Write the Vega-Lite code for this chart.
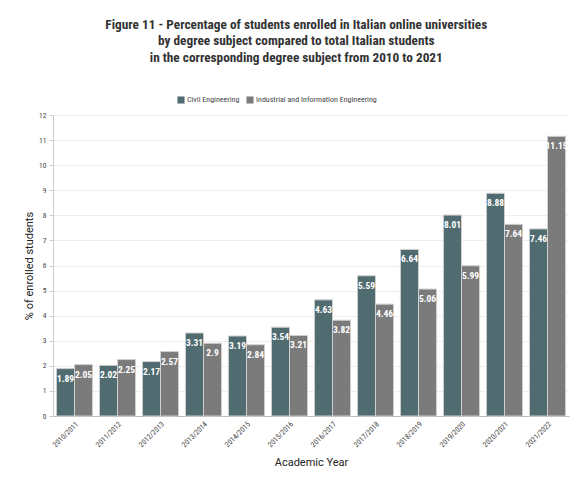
{
  "$schema": "https://vega.github.io/schema/vega-lite/v6.json",
  "width": 579,
  "height": 479,
  "autosize": {"type": "fit", "contains": "padding"},
  "padding": {"left": 23, "top": 17, "right": 10, "bottom": 11},
  "background": "white",
  "title": {
    "text": [
      "Figure 11 - Percentage of students enrolled in Italian online universities",
      "by degree subject compared to total Italian students",
      "in the corresponding degree subject from 2010 to 2021"
    ],
    "subtitle": " ",
    "subtitleFontSize": 27,
    "anchor": "middle",
    "frame": "bounds",
    "font": "Roboto Condensed",
    "fontSize": 13.3,
    "fontWeight": "bold",
    "lineHeight": 16.5,
    "color": "#333333",
    "offset": 18
  },
  "data": {
    "values": [
      {"year": "2010/2011", "subject": "Civil Engineering", "pct": 1.89},
      {"year": "2010/2011", "subject": "Industrial and Information Engineering", "pct": 2.05},
      {"year": "2011/2012", "subject": "Civil Engineering", "pct": 2.02},
      {"year": "2011/2012", "subject": "Industrial and Information Engineering", "pct": 2.25},
      {"year": "2012/2013", "subject": "Civil Engineering", "pct": 2.17},
      {"year": "2012/2013", "subject": "Industrial and Information Engineering", "pct": 2.57},
      {"year": "2013/2014", "subject": "Civil Engineering", "pct": 3.31},
      {"year": "2013/2014", "subject": "Industrial and Information Engineering", "pct": 2.9},
      {"year": "2014/2015", "subject": "Civil Engineering", "pct": 3.19},
      {"year": "2014/2015", "subject": "Industrial and Information Engineering", "pct": 2.84},
      {"year": "2015/2016", "subject": "Civil Engineering", "pct": 3.54},
      {"year": "2015/2016", "subject": "Industrial and Information Engineering", "pct": 3.21},
      {"year": "2016/2017", "subject": "Civil Engineering", "pct": 4.63},
      {"year": "2016/2017", "subject": "Industrial and Information Engineering", "pct": 3.82},
      {"year": "2017/2018", "subject": "Civil Engineering", "pct": 5.59},
      {"year": "2017/2018", "subject": "Industrial and Information Engineering", "pct": 4.46},
      {"year": "2018/2019", "subject": "Civil Engineering", "pct": 6.64},
      {"year": "2018/2019", "subject": "Industrial and Information Engineering", "pct": 5.06},
      {"year": "2019/2020", "subject": "Civil Engineering", "pct": 8.01},
      {"year": "2019/2020", "subject": "Industrial and Information Engineering", "pct": 5.99},
      {"year": "2020/2021", "subject": "Civil Engineering", "pct": 8.88},
      {"year": "2020/2021", "subject": "Industrial and Information Engineering", "pct": 7.64},
      {"year": "2021/2022", "subject": "Civil Engineering", "pct": 7.46},
      {"year": "2021/2022", "subject": "Industrial and Information Engineering", "pct": 11.15}
    ]
  },
  "encoding": {
    "x": {
      "field": "year",
      "type": "nominal",
      "sort": null,
      "scale": {"paddingInner": 0.16, "paddingOuter": 0.08},
      "axis": {
        "title": "Academic Year",
        "titleFont": "Roboto",
        "titleFontSize": 11,
        "titleFontWeight": "normal",
        "titleColor": "#222222",
        "titlePadding": 8,
        "labelAngle": -45,
        "labelFont": "Roboto Condensed",
        "labelFontSize": 7.5,
        "labelColor": "#444444",
        "domainColor": "#bbbbbb",
        "ticks": false,
        "labelPadding": 4
      }
    },
    "xOffset": {"field": "subject", "type": "nominal", "scale": {"paddingInner": 0}},
    "y": {
      "field": "pct",
      "type": "quantitative",
      "scale": {"domain": [0, 12], "nice": false},
      "axis": {
        "title": "% of enrolled students",
        "titleFont": "Roboto",
        "titleFontSize": 11,
        "titleFontWeight": "normal",
        "titleColor": "#222222",
        "titlePadding": 4,
        "values": [0, 1, 2, 3, 4, 5, 6, 7, 8, 9, 10, 11, 12],
        "labelFont": "Roboto Condensed",
        "labelFontSize": 7.5,
        "labelColor": "#444444",
        "domainColor": "#cccccc",
        "tickColor": "#cccccc",
        "tickSize": 4,
        "gridColor": "#eeeeee",
        "labelPadding": 3
      }
    }
  },
  "layer": [
    {
      "mark": {"type": "bar", "stroke": "#d0d0d0", "strokeWidth": 1},
      "encoding": {
        "color": {
          "field": "subject",
          "type": "nominal",
          "scale": {
            "domain": ["Civil Engineering", "Industrial and Information Engineering"],
            "range": ["#516c71", "#7b7b7b"]
          },
          "legend": {
            "title": null,
            "orient": "none",
            "legendX": 124,
            "legendY": -19,
            "direction": "horizontal",
            "symbolType": "square",
            "symbolSize": 50,
            "symbolStrokeWidth": 0,
            "labelFont": "Roboto Condensed",
            "labelFontSize": 8,
            "labelColor": "#444444",
            "columnPadding": 6,
            "symbolOffset": 0,
            "labelOffset": 2
          }
        }
      }
    },
    {
      "mark": {
        "type": "text",
        "baseline": "top",
        "dy": 5,
        "color": "white",
        "font": "Roboto Condensed",
        "fontSize": 9.5,
        "fontWeight": "bold"
      },
      "encoding": {
        "text": {"field": "pct", "type": "quantitative"}
      }
    }
  ],
  "config": {
    "view": {"stroke": null}
  }
}
